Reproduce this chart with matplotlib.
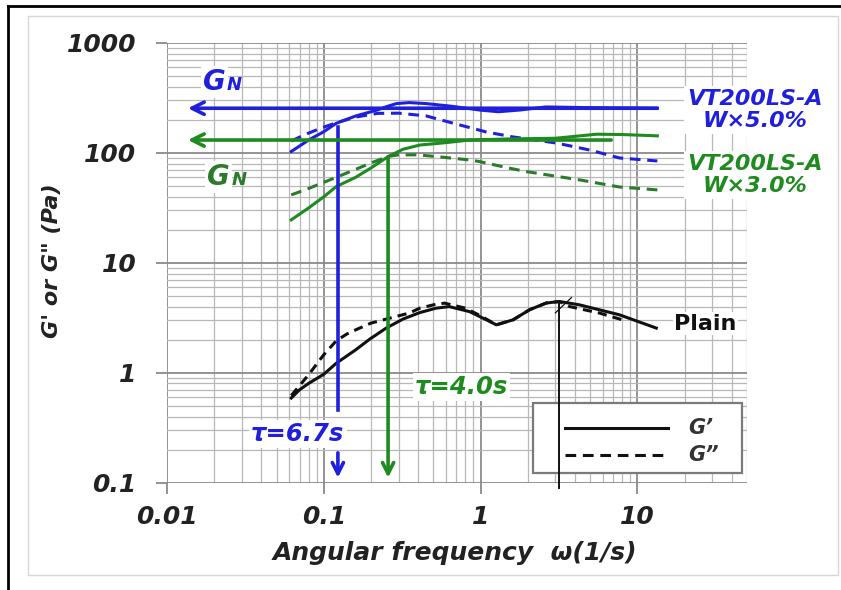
import matplotlib
matplotlib.use("Agg")
import matplotlib.pyplot as plt
from matplotlib.lines import Line2D
from matplotlib.patches import Rectangle
from matplotlib.ticker import LogLocator, NullFormatter

# ── Data: storage (G') and loss (G'') moduli vs angular frequency ─────────
w5_gp_x = [0.062, 0.08, 0.1, 0.12, 0.16, 0.22, 0.25, 0.29, 0.35, 0.45, 0.65, 1.0, 1.3, 1.8, 2.6, 5.0, 13.4]
w5_gp_y = [103, 131, 156, 186, 217, 246, 263, 281, 287, 281, 266, 245, 237, 246, 262, 258, 255]
w5_gpp_x = [0.062, 0.075, 0.097, 0.12, 0.16, 0.22, 0.3, 0.45, 0.7, 1.09, 1.6, 3.05, 5.0, 7.67, 13.4]
w5_gpp_y = [128, 146, 169, 188, 212, 229, 230, 217, 183, 155, 140, 123, 106, 90, 84.5]

w3_gp_x = [0.062, 0.08, 0.1, 0.12, 0.16, 0.2, 0.257, 0.32, 0.41, 0.6, 0.85, 1.5, 3.0, 5.5, 8.0, 13.4]
w3_gp_y = [24.6, 31.6, 39.9, 49.4, 60.1, 73, 92.5, 108, 118, 124, 131, 134, 136, 148, 147, 143]
w3_gpp_x = [0.062, 0.08, 0.1, 0.12, 0.16, 0.2, 0.257, 0.3, 0.4, 0.55, 0.85, 0.986, 1.53, 1.96, 4.27, 7.67, 13.4]
w3_gpp_y = [41.5, 47.5, 54, 60, 71, 81, 93, 96, 96, 92, 86.3, 83.4, 72.6, 67.6, 56.9, 49, 46.1]

plain_gp_x = [0.062, 0.07, 0.08, 0.1, 0.12, 0.16, 0.196, 0.25, 0.32, 0.41, 0.52, 0.63, 0.85,
              1.09, 1.26, 1.61, 2.05, 2.62, 3.18, 4.27, 7.67, 13.2]
plain_gp_y = [0.589, 0.70, 0.80, 0.97, 1.22, 1.62, 2.02, 2.55, 3.08, 3.53, 3.87, 4.0, 3.6,
              3.03, 2.73, 3.03, 3.74, 4.31, 4.45, 4.15, 3.37, 2.55]
plain_gpp_x = [0.062, 0.08, 0.1, 0.12, 0.14, 0.16, 0.2, 0.25, 0.35, 0.41, 0.5, 0.59, 0.8,
               1.0, 1.26, 1.61, 2.05, 2.62, 3.18, 3.7, 5.7, 7.9]
plain_gpp_y = [0.62, 0.96, 1.46, 1.95, 2.25, 2.46, 2.83, 3.08, 3.49, 3.87, 4.15, 4.3, 3.87,
               3.3, 2.73, 3.03, 3.74, 4.31, 4.45, 4.0, 3.5, 3.05]

# plateau modulus G_N and relaxation frequency (1/tau) markers
gn_w5 = 255
gn_w3 = 131
w_tau_w5 = 0.123
w_tau_w3 = 0.257
w_plain_peak = 3.18

BLUE = "#2020dc"
GREEN = "#1f8a1f"
DKGREEN = "#2c7a2c"
font = dict(family="DejaVu Sans", weight="bold", style="italic")

fig = plt.figure(figsize=(8.41, 5.90), dpi=100)
ax = fig.add_axes([167 / 841, 1 - 482.7 / 590, 580 / 841, 439.7 / 590])

ax.set_xscale("log")
ax.set_yscale("log")
ax.set_xlim(0.01, 50)
ax.set_ylim(0.1, 1000)

# log grid
ax.xaxis.set_minor_locator(LogLocator(base=10, subs=range(2, 10)))
ax.yaxis.set_minor_locator(LogLocator(base=10, subs=range(2, 10)))
ax.xaxis.set_minor_formatter(NullFormatter())
ax.yaxis.set_minor_formatter(NullFormatter())
ax.grid(which="minor", color="#b8b8b8", lw=0.9)
ax.grid(which="major", color="#8a8a8a", lw=1.3)
ax.set_axisbelow(True)
for s in ax.spines.values():
    s.set_visible(False)

ax.set_xticks([0.01, 0.1, 1, 10], ["0.01", "0.1", "1", "10"])
ax.set_yticks([0.1, 1, 10, 100, 1000], ["0.1", "1", "10", "100", "1000"])
ax.tick_params(which="major", length=8, width=1.3, color="#8a8a8a",
               labelcolor="#222222", labelsize=18)
ax.tick_params(axis="y", pad=14)
ax.tick_params(axis="x", pad=8)
ax.tick_params(which="minor", length=0)
for lab in ax.get_xticklabels() + ax.get_yticklabels():
    lab.set_fontweight("bold")
    lab.set_fontstyle("italic")

ax.set_xlabel("Angular frequency  ω(1/s)", fontsize=18, color="#222222", **font)
ax.set_ylabel("G' or G\" (Pa)", fontsize=16, color="#222222", **font)
ax.xaxis.label.set_va("center")
ax.yaxis.label.set_va("center")
ax.xaxis.set_label_coords(0.497, -0.160)
ax.yaxis.set_label_coords(-0.198, 0.506)

# curves
lw = 2.2
dash = (3.5, 2.2)
ax.plot(w5_gp_x, w5_gp_y, color=BLUE, lw=lw)
ax.plot(w5_gpp_x, w5_gpp_y, color=BLUE, lw=lw, dashes=dash)
ax.plot(w3_gp_x, w3_gp_y, color=GREEN, lw=lw)
ax.plot(w3_gpp_x, w3_gpp_y, color=DKGREEN, lw=lw, dashes=dash)
ax.plot(plain_gp_x, plain_gp_y, color="#111111", lw=lw)
ax.plot(plain_gpp_x, plain_gpp_y, color="#111111", lw=lw, dashes=(3, 2))

# G_N plateau arrows
ax.annotate("", xy=(0.0136, gn_w5), xytext=(13.4, gn_w5),
            arrowprops=dict(arrowstyle="->", color=BLUE, lw=2.6,
                            mutation_scale=22, shrinkA=0, shrinkB=0))
ax.annotate("", xy=(0.0136, gn_w3), xytext=(6.8, gn_w3),
            arrowprops=dict(arrowstyle="->", color=GREEN, lw=2.6,
                            mutation_scale=22, shrinkA=0, shrinkB=0))

# relaxation frequency markers
ax.plot([w_tau_w5, w_tau_w5], [173, 0.46], color=BLUE, lw=2.6)
ax.annotate("", xy=(w_tau_w5, 0.111), xytext=(w_tau_w5, 0.187),
            arrowprops=dict(arrowstyle="->", color=BLUE, lw=2.6,
                            mutation_scale=20, shrinkA=0, shrinkB=0))
ax.annotate("", xy=(w_tau_w3, 0.111), xytext=(w_tau_w3, 92.5),
            arrowprops=dict(arrowstyle="->", color=GREEN, lw=2.6,
                            mutation_scale=20, shrinkA=0, shrinkB=0))
ax.plot([w_plain_peak, w_plain_peak], [4.45, 0.09], color="#111111", lw=1.4,
        clip_on=False, zorder=8)
ax.plot([3.0, 3.8], [3.51, 4.84], color="#111111", lw=0.9, zorder=8)

# labels
bg = dict(facecolor="white", edgecolor="none", pad=1.5)
ax.text(0.01694, 374, "G", color=BLUE, fontsize=20, va="baseline", ha="left",
        bbox=bg, **font)
ax.text(0.0241, 374, "N", color=BLUE, fontsize=13, va="baseline", ha="left", **font)
ax.text(0.018, 51.2, "G", color=DKGREEN, fontsize=20, va="baseline", ha="left",
        bbox=bg, **font)
ax.text(0.026, 51.2, "N", color=DKGREEN, fontsize=13, va="baseline", ha="left", **font)

ax.text(56, 246, "VT200LS-A\nW×5.0%", color=BLUE, fontsize=16, ha="center",
        va="center", linespacing=1.15, clip_on=False,
        bbox=dict(facecolor="white", edgecolor="none", pad=2), **font)
ax.text(56, 63, "VT200LS-A\nW×3.0%", color=GREEN, fontsize=16, ha="center",
        va="center", linespacing=1.15, clip_on=False,
        bbox=dict(facecolor="white", edgecolor="none", pad=2), **font)
ax.text(27.1, 2.79, "Plain", color="#111111", fontsize=16, fontweight="bold",
        ha="center", va="center", bbox=dict(facecolor="white", edgecolor="none", pad=1))
ax.text(0.0683, 0.279, "τ=6.7s", color=BLUE, fontsize=17.5, ha="center", va="center",
        bbox=bg, zorder=6, **font)
ax.text(0.757, 0.746, "τ=4.0s", color=GREEN, fontsize=17.5, ha="center", va="center",
        bbox=bg, zorder=6, **font)

# legend box
ax.add_patch(Rectangle((0.631, 0.022), 0.36, 0.159, transform=ax.transAxes,
                       facecolor="white", edgecolor="#7a7a7a", lw=1.6, zorder=5))
ax.add_line(Line2D([0.686, 0.864], [0.1244, 0.1244], transform=ax.transAxes,
                   color="#111111", lw=2.2, zorder=6))
ax.add_line(Line2D([0.686, 0.864], [0.063, 0.063], transform=ax.transAxes,
                   color="#111111", lw=2.2, dashes=(3.5, 2.2), zorder=6))
ax.text(0.898, 0.1244, "G’", transform=ax.transAxes, fontsize=15, color="#333333",
        va="center", zorder=6, **font)
ax.text(0.898, 0.063, "G”", transform=ax.transAxes, fontsize=15, color="#333333",
        va="center", zorder=6, **font)

# picture frame
fig.add_artist(Rectangle((28 / 841, 1 - 575 / 590), 810 / 841, 559 / 590,
                         transform=fig.transFigure, fill=False,
                         edgecolor="#d6d6d6", lw=1))
fig.add_artist(Line2D([8 / 841, 8 / 841], [0, 1 - 6 / 590], transform=fig.transFigure,
                      color="black", lw=2))
fig.add_artist(Line2D([8 / 841, 1], [1 - 6 / 590, 1 - 6 / 590], transform=fig.transFigure,
                      color="black", lw=2))

fig.savefig("out.png", dpi=100)
